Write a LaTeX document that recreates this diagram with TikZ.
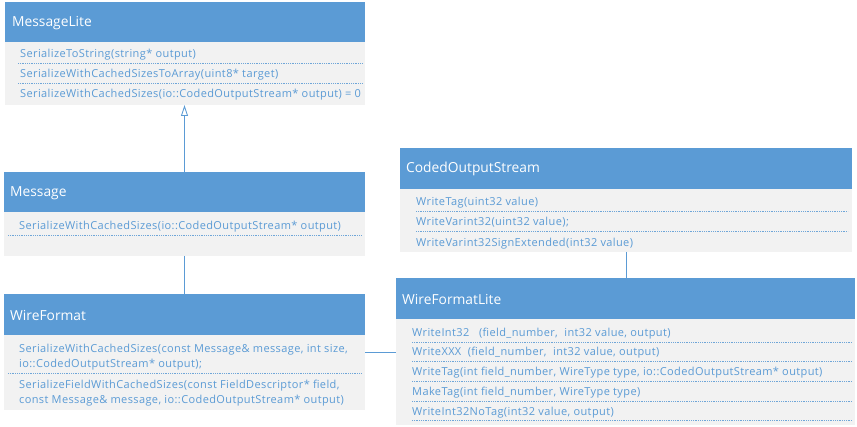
\documentclass[tikz,border=0pt]{standalone}
\usepackage{fontspec}
\setmainfont{Open Sans}
\newfontfamily\memberfont[LetterSpace=3.5]{Open Sans}
\usetikzlibrary{arrows.meta,calc}
\definecolor{hdr}{HTML}{5B9BD5}
\definecolor{bodybg}{HTML}{F2F2F2}
\definecolor{txt}{HTML}{5B9BD5}
\definecolor{sep}{HTML}{6FA6D8}
\tikzset{
  hdrbox/.style={fill=hdr, draw=none, inner sep=0pt, outer sep=0pt, anchor=north west},
  bodybox/.style={fill=bodybg, draw=none, inner sep=0pt, outer sep=0pt, anchor=north west},
  title/.style={anchor=west, text=white, font=\fontsize{13.8}{16}\selectfont, inner sep=0pt, yshift=-1pt},
  member/.style={anchor=west, text=txt, font=\memberfont\fontsize{11}{12}\selectfont, inner sep=0pt, yshift=-1.5pt},
  sepline/.style={draw=sep, line width=0.7pt, dash pattern=on 1pt off 0.8pt},
  conn/.style={draw=hdr, line width=0.9pt}
}
\begin{document}
\begin{tikzpicture}[x=1pt,y=-1pt]
\useasboundingbox (0,0) rectangle (857,427);
% ---------- MessageLite
\node[hdrbox, minimum width=360pt, minimum height=40pt] (mlhead) at (5,2) {};
\node[bodybox, minimum width=360pt, minimum height=63pt] (mlbody) at (5,42) {};
\node[title] (mlt) at (12,22) {MessageLite};
\node[member] (ml1) at (20,53) {SerializeToString(string* output)};
\node[member] (ml2) at (20,73) {SerializeWithCachedSizesToArray(uint8* target)};
\node[member] (ml3) at (20,93) {SerializeWithCachedSizes(io::CodedOutputStream* output) = 0};
\draw[sepline] (18,63) -- (362,63);
\draw[sepline] (18,83) -- (362,83);
% ---------- Message
\node[hdrbox, minimum width=361pt, minimum height=40pt] (mhead) at (4,172) {};
\node[bodybox, minimum width=361pt, minimum height=44pt] (mbody) at (4,212) {};
\node[title] (mt) at (10,192) {Message};
\node[member] (m1) at (19,225) {SerializeWithCachedSizes(io::CodedOutputStream* output)};
\draw[sepline] (8,235) -- (361,235);
% ---------- WireFormat
\node[hdrbox, minimum width=361pt, minimum height=41pt] (wfhead) at (4,294) {};
\node[bodybox, minimum width=361pt, minimum height=75pt] (wfbody) at (4,335) {};
\node[title] (wft) at (10,315) {WireFormat};
\node[member] (wf1) at (19,348) {SerializeWithCachedSizes(const Message\& message, int size,};
\node[member] (wf1b) at (19,363) {io::CodedOutputStream* output);};
\node[member] (wf2) at (19,384) {SerializeFieldWithCachedSizes(const FieldDescriptor* field,};
\node[member] (wf2b) at (19,399) {const Message\& message, io::CodedOutputStream* output)};
\draw[sepline] (8,373) -- (362,373);
% ---------- CodedOutputStream
\node[hdrbox, minimum width=452pt, minimum height=41pt] (cohead) at (400,148) {};
\node[bodybox, minimum width=452pt, minimum height=63pt] (cobody) at (400,189) {};
\node[title] (cot) at (406,168) {CodedOutputStream};
\node[member] (co1) at (416,201) {WriteTag(uint32 value)};
\node[member] (co2) at (416,221) {WriteVarint32(uint32 value);};
\node[member] (co3) at (416,242) {WriteVarint32SignExtended(int32 value)};
\draw[sepline] (416,211) -- (848,211);
\draw[sepline] (416,231) -- (848,231);
% ---------- WireFormatLite
\node[hdrbox, minimum width=459pt, minimum height=41pt] (wlhead) at (396,278) {};
\node[bodybox, minimum width=459pt, minimum height=106pt] (wlbody) at (396,319) {};
\node[title] (wlt) at (402,299) {WireFormatLite};
\node[member] (wl1) at (412,332) {WriteInt32\ \ \ (field\_number,\ \ int32 value, output)};
\node[member] (wl2) at (412,351) {WriteXXX\ \ (field\_number,\ \ int32 value, output)};
\node[member] (wl3) at (412,371) {WriteTag(int field\_number, WireType type, io::CodedOutputStream* output)};
\node[member] (wl4) at (412,391) {MakeTag(int field\_number, WireType type)};
\node[member] (wl5) at (412,411) {WriteInt32NoTag(int32 value, output)};
\foreach \yy in {342,361,381,401,420} \draw[sepline] (412,\yy) -- (852,\yy);
% ---------- connectors
\draw[conn, -{Triangle[open, width=7pt, length=11pt, line width=0.9pt]}]
  (mhead.north) -- (mhead.north |- mlbody.south);
\draw[conn] (mbody.south) -- (mbody.south |- wfhead.north);
\coordinate (wfport) at ($(wfbody.north east)+(0,17)$);
\draw[conn] (wfport) -- (wfport -| wlbody.west);
\draw[conn] (cobody.south) -- (cobody.south |- wlhead.north);
\end{tikzpicture}
\end{document}
